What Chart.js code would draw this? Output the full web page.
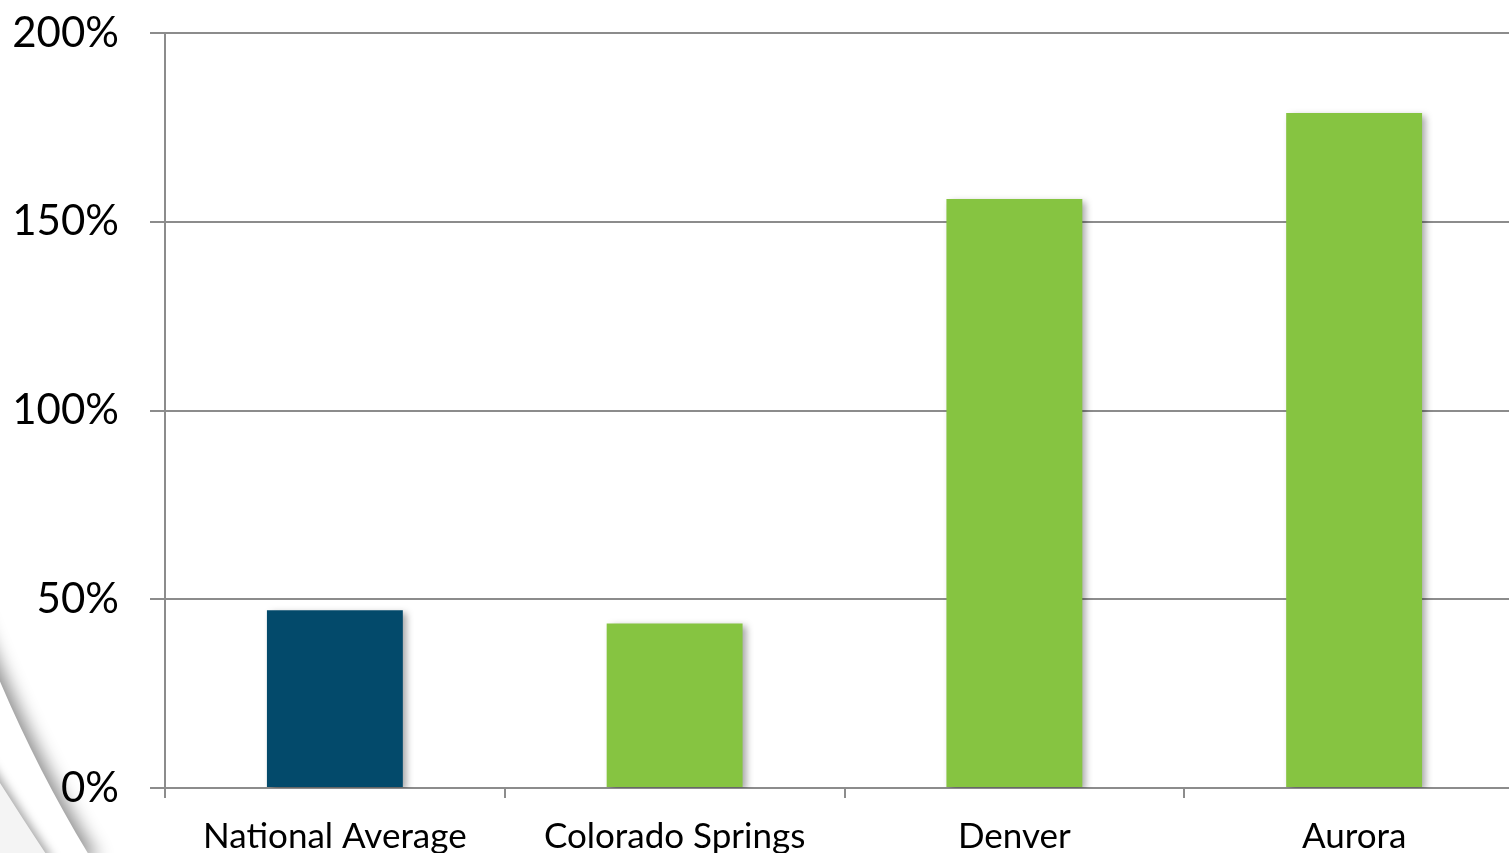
<!DOCTYPE html>
<html>
<head>
<meta charset="utf-8">
<script src="https://cdn.jsdelivr.net/npm/chart.js@4/dist/chart.umd.min.js"></script>
<style>
  html, body { margin: 0; padding: 0; background: #fff; overflow: hidden; }
  #wrap { width: 1524px; height: 853px; }
</style>
</head>
<body>
<div id="wrap"><canvas id="c" width="1524" height="853"></canvas></div>
<script>
// Categories and values (percent)
const categories = ['National Average', 'Colorado Springs', 'Denver', 'Aurora'];
const values = [47.1, 43.6, 156.0, 178.8];
const barColors = ['#034A6B', '#86C441', '#86C441', '#86C441'];
const yTicks = [0, 50, 100, 150, 200];

const gridGray = '#8c8c8c';
const fontFamily = 'Lato, "Open Sans", sans-serif';

// Soft drop shadow behind the bars
const barShadow = {
  id: 'barShadow',
  beforeDatasetsDraw(chart) {
    const ctx = chart.ctx;
    ctx.save();
    ctx.shadowColor = 'rgba(0,0,0,0.35)';
    ctx.shadowBlur = 7;
    ctx.shadowOffsetX = 4;
    ctx.shadowOffsetY = 3;
  },
  afterDatasetsDraw(chart) {
    chart.ctx.restore();
  }
};

// Decorative swoosh in the lower-left corner
const swoosh = {
  id: 'swoosh',
  beforeDraw(chart) {
    const ctx = chart.ctx;
    ctx.save();
    // outer band
    ctx.beginPath();
    ctx.moveTo(-40, 580);
    ctx.bezierCurveTo(0, 690, 40, 775, 92, 860);
    ctx.lineTo(-40, 860);
    ctx.closePath();
    ctx.fillStyle = '#fff';
    ctx.shadowColor = 'rgba(0,0,0,0.45)';
    ctx.shadowBlur = 18;
    ctx.shadowOffsetX = 7;
    ctx.fill();
    // inner thin band
    ctx.beginPath();
    ctx.moveTo(-40, 720);
    ctx.bezierCurveTo(-5, 775, 20, 815, 50, 860);
    ctx.lineTo(-40, 860);
    ctx.closePath();
    ctx.shadowColor = 'rgba(0,0,0,0.35)';
    ctx.shadowBlur = 10;
    ctx.shadowOffsetX = 4;
    ctx.fillStyle = '#f4f4f4';
    ctx.fill();
    ctx.restore();
  }
};

new Chart(document.getElementById('c'), {
  type: 'bar',
  data: {
    labels: categories,
    datasets: [{
      data: values,
      backgroundColor: barColors,
      borderWidth: 0,
      barPercentage: 0.4,
      categoryPercentage: 1.0
    }]
  },
  options: {
    responsive: false,
    animation: false,
    layout: { padding: { top: 33, right: 0, left: 0, bottom: 0 } },
    plugins: {
      legend: { display: false },
      tooltip: { enabled: false }
    },
    scales: {
      x: {
        grid: {
          offset: true,
          drawOnChartArea: false,
          drawTicks: true,
          tickLength: 10,
          color: gridGray,
          lineWidth: 2
        },
        border: { display: true, color: gridGray, width: 2 },
        ticks: {
          color: '#000',
          font: { family: fontFamily, size: 35 },
          padding: 18,
          maxRotation: 0
        },
        afterFit(scale) { scale.height = 65; }
      },
      y: {
        min: 0,
        max: 200,
        afterBuildTicks(scale) { scale.ticks = yTicks.map(v => ({ value: v })); },
        grid: {
          color: gridGray,
          lineWidth: 2,
          drawTicks: true,
          tickLength: 15
        },
        border: { display: true, color: gridGray, width: 2 },
        ticks: {
          color: '#000',
          font: { family: fontFamily, size: 42 },
          padding: 31,
          callback: v => v + '%'
        },
        afterFit(scale) {
          scale.width = 165;
          scale.paddingTop = 0;
          scale.paddingBottom = 0;
        }
      }
    }
  },
  plugins: [swoosh, barShadow]
});
</script>
</body>
</html>
